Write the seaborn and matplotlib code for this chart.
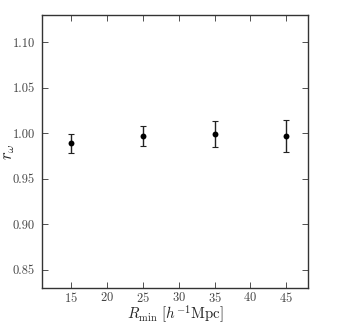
import numpy as np
import pandas as pd
import matplotlib
matplotlib.use("Agg")
import matplotlib.pyplot as plt
import seaborn as sns

# data
r_min = [15, 25, 35, 45]
r_omega = [0.989, 0.9966, 0.9991, 0.9966]
r_err = [0.0105, 0.011, 0.014, 0.0175]

sns.set_style("ticks")
plt.rcParams['font.family'] = 'serif'
plt.rcParams['font.serif'] = ['cmr10', 'DejaVu Serif']
plt.rcParams['mathtext.fontset'] = 'cm'
plt.rcParams['axes.formatter.use_mathtext'] = True

df = pd.DataFrame({"R": r_min, "r": r_omega, "err": r_err})

fig = plt.figure(figsize=(3.43, 3.24), dpi=100)
ax = fig.add_axes([42/343, 1 - 288/324, 266/343, 273/324])

ax.errorbar(df["R"], df["r"], yerr=df["err"], fmt="none", ecolor="#222222",
            elinewidth=1.0, capsize=2.2, capthick=0.8, zorder=2)
sns.scatterplot(data=df, x="R", y="r", ax=ax, color="black", s=18,
                edgecolor="black", linewidth=0, zorder=3)

ax.set_xlim(11, 48)
ax.set_ylim(0.83, 1.13)
ax.set_xticks([15, 20, 25, 30, 35, 40, 45])
ax.set_yticks([0.85, 0.90, 0.95, 1.00, 1.05, 1.10])
ax.set_yticklabels(["0.85", "0.90", "0.95", "1.00", "1.05", "1.10"])
ax.tick_params(direction="in", top=True, right=True, length=4, width=0.6,
               labelsize=9, colors="#333333", labelcolor="#444444", pad=5)
ax.tick_params(axis="x", pad=2)
for s in ax.spines.values():
    s.set_color("#333333")
    s.set_linewidth(1.0)

ax.set_xlabel(r"$R_{\rm min}\ [h^{-1}{\rm Mpc}]$", fontsize=10.8)
ax.set_ylabel(r"$r_{\omega}$", fontsize=12)
ax.xaxis.set_label_coords(0.5, -0.058)
ax.yaxis.set_label_coords(-0.095, 0.5)

fig.savefig("out.png", dpi=100)
